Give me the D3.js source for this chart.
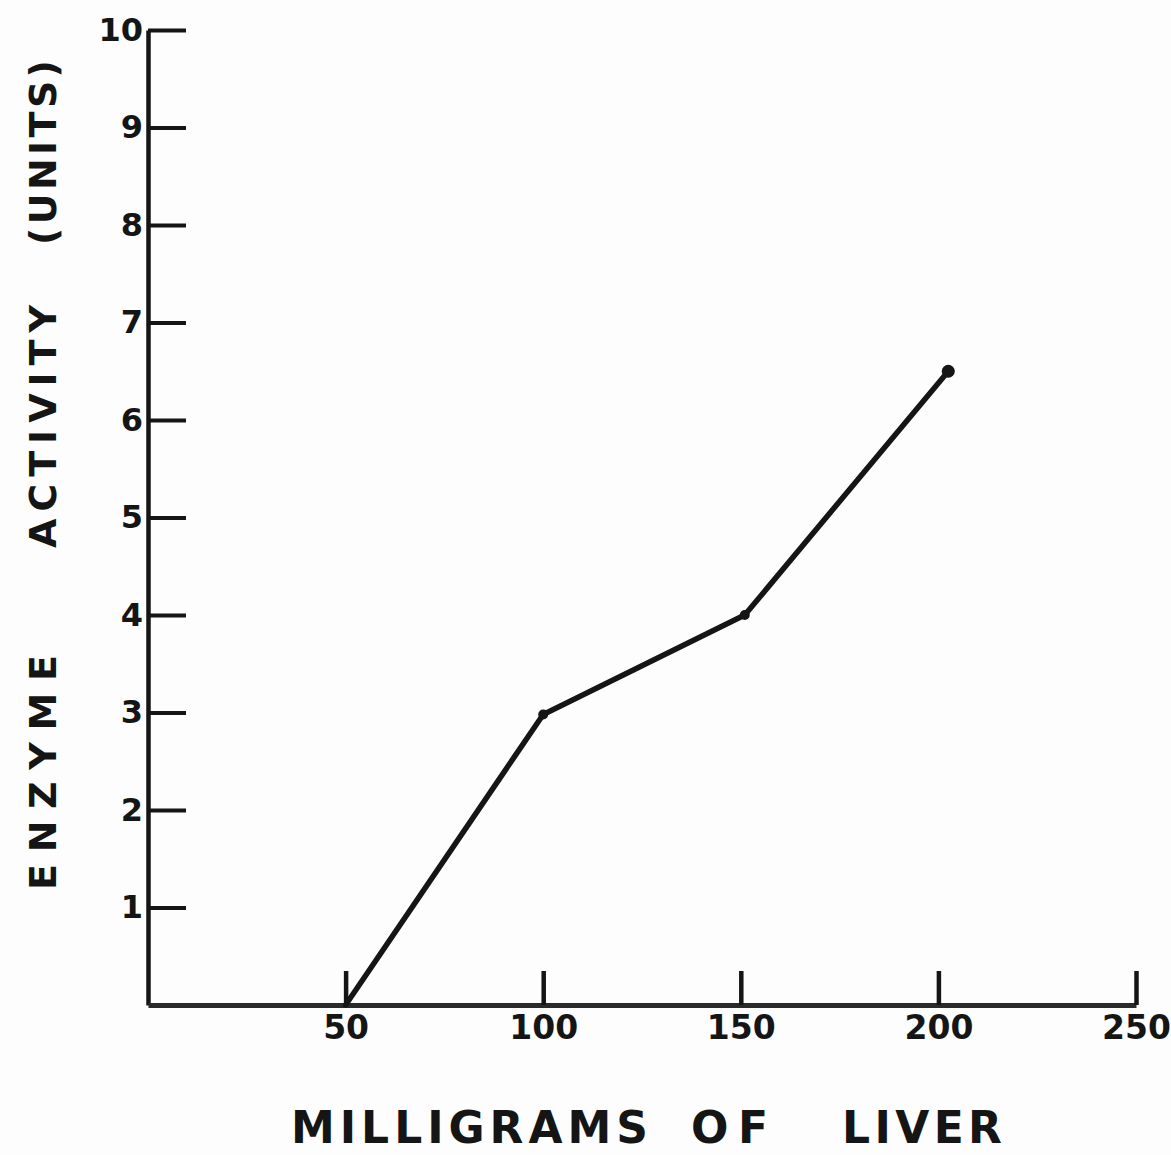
<!DOCTYPE html>
<html>
<head>
<meta charset="utf-8">
<script src="https://cdn.jsdelivr.net/npm/d3@7"></script>
<style>
  html, body { margin: 0; padding: 0; background: #fdfdfd; }
  svg { display: block; }
</style>
</head>
<body>
<svg id="chart" width="1171" height="1155"></svg>
<script>
// ---- data ----
const liverMg = [50, 100, 151, 202.5];
const enzymeUnits = [0, 2.98, 4.0, 6.5];
const xTickValues = [50, 100, 150, 200, 250];
const yTickValues = [1, 2, 3, 4, 5, 6, 7, 8, 9, 10];
const xTitleWords = ["MILLIGRAMS", "OF", "LIVER"];
const yTitleWords = ["ENZYME", "ACTIVITY", "(UNITS)"];

const svg = d3.select("#chart");
const ink = "#151515";

const x = d3.scaleLinear().domain([0, 250]).range([148, 1136]);
const y = d3.scaleLinear().domain([0, 10]).range([1005, 30]);

// y axis
const yAxis = svg.append("g")
  .attr("transform", `translate(${x(0)},0)`)
  .call(d3.axisLeft(y).tickValues(yTickValues).tickSizeInner(-38).tickSizeOuter(0).tickPadding(5).tickFormat(d3.format("d")));
yAxis.select(".domain").attr("stroke", ink).attr("stroke-width", 4.5);
yAxis.selectAll(".tick line").attr("stroke", ink).attr("stroke-width", 4);
yAxis.selectAll(".tick text")
  .attr("fill", ink)
  .style("font-family", "'DejaVu Sans', sans-serif")
  .style("font-weight", "bold")
  .style("font-size", "32px");

// x axis
const xAxis = svg.append("g")
  .attr("transform", `translate(0,${y(0)})`)
  .call(d3.axisBottom(x).tickValues(xTickValues).tickSizeInner(-34).tickSizeOuter(0).tickPadding(11).tickFormat(d3.format("d")));
xAxis.select(".domain").attr("stroke", "#2a2a2a").attr("stroke-width", 5);
xAxis.selectAll(".tick line").attr("stroke", ink).attr("stroke-width", 4.5);
xAxis.selectAll(".tick text")
  .attr("fill", ink)
  .style("font-family", "'DejaVu Sans', sans-serif")
  .style("font-weight", "bold")
  .style("font-size", "33px");

// data line
const data = liverMg.map((m, i) => ({ m, u: enzymeUnits[i] }));
svg.append("path")
  .datum(data)
  .attr("fill", "none")
  .attr("stroke", ink)
  .attr("stroke-width", 5.5)
  .attr("stroke-linejoin", "round")
  .attr("stroke-linecap", "round")
  .attr("d", d3.line().x(d => x(d.m)).y(d => y(d.u)));

svg.selectAll("circle.pt")
  .data(data.slice(1))
  .join("circle")
  .attr("class", "pt")
  .attr("cx", d => x(d.m))
  .attr("cy", d => y(d.u))
  .attr("r", (d, i) => i === data.length - 2 ? 6.5 : 5)
  .attr("fill", ink);

// x title
const xTitleSpans = [[291, 648], [691, 768], [842, 1002]];
svg.selectAll("text.xtitle")
  .data(xTitleWords)
  .join("text")
  .attr("class", "xtitle")
  .attr("x", (d, i) => xTitleSpans[i][0])
  .attr("y", 1143)
  .attr("textLength", (d, i) => xTitleSpans[i][1] - xTitleSpans[i][0])
  .attr("lengthAdjust", "spacing")
  .attr("fill", ink)
  .style("font-family", "'DejaVu Sans', sans-serif")
  .style("font-weight", "bold")
  .style("font-size", "44px")
  .text(d => d);

// y title (rotated)
const yTitleSpans = [[890, 655], [548, 305], [245, 60]]; // bottom, top in page y
const yt = svg.append("g").attr("transform", "translate(42,0) rotate(-90)");
yt.selectAll("text")
  .data(yTitleWords)
  .join("text")
  .attr("x", (d, i) => -yTitleSpans[i][0])
  .attr("y", 0)
  .attr("dy", "0.36em")
  .attr("textLength", (d, i) => yTitleSpans[i][0] - yTitleSpans[i][1])
  .attr("lengthAdjust", "spacing")
  .attr("fill", ink)
  .style("font-family", "'DejaVu Sans', sans-serif")
  .style("font-weight", "bold")
  .style("font-size", "38px")
  .text(d => d);
</script>
</body>
</html>
